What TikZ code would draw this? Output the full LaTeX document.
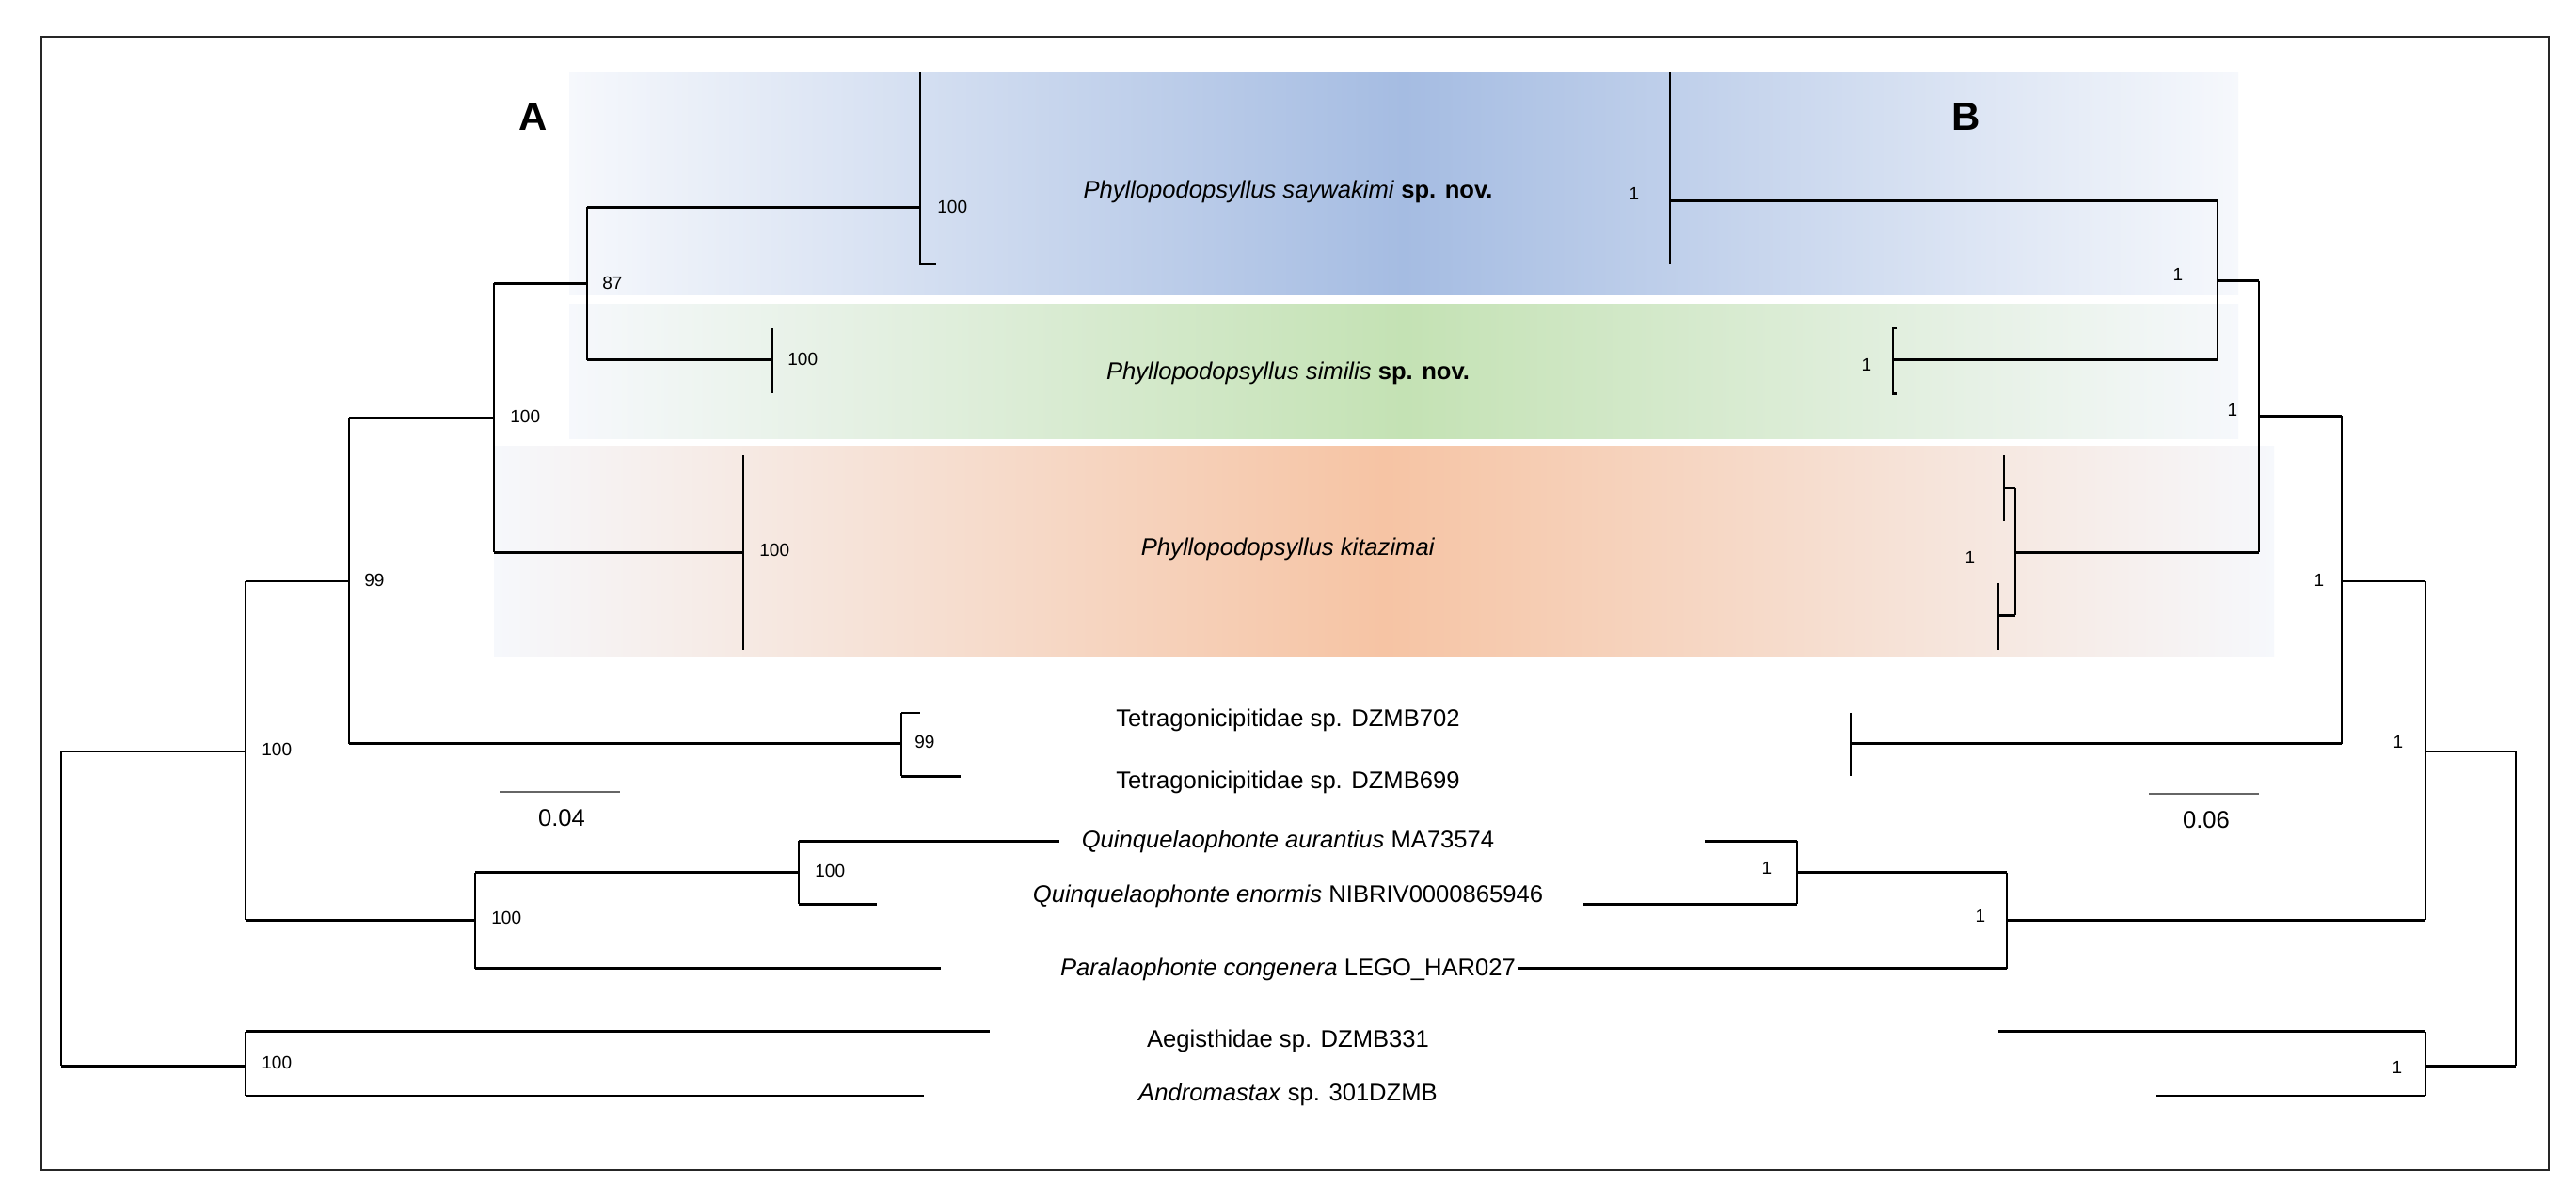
\documentclass[tikz,border=0pt]{standalone}
\usepackage{fontspec}
\setmainfont{Liberation Sans}
\definecolor{pale}{RGB}{246,248,252}
\definecolor{cblue}{RGB}{165,188,226}
\definecolor{cgreen}{RGB}{196,226,180}
\definecolor{corange}{RGB}{246,196,164}
\begin{document}
\begin{tikzpicture}[x=0.5pt,y=-0.4667pt,
  br/.style={line width=1.4pt},
  bs/.style={font=\fontsize{9.5}{11}\selectfont,inner sep=0pt},
  bw/.style={bs,anchor=west},
  tx/.style={font=\fontsize{12.8}{15}\selectfont,inner sep=0pt},
  sb/.style={gray!80!black,line width=0.9pt}]
\useasboundingbox (0,0) rectangle (2738,1369);
\fill[white] (0,0) rectangle (2738,1369);
\draw[line width=0.9pt,black!85] (44,42) rectangle (2709,1333);
% backgrounds
\shade[left color=pale,right color=pale,middle color=cblue] (605,83) rectangle (2379,336);
\shade[left color=pale,right color=pale,middle color=cgreen] (605,347) rectangle (2379,500);
\shade[left color=pale,right color=pale,middle color=corange] (525,508) rectangle (2417,748);
% labels
\node[font=\bfseries\fontsize{21}{23}\selectfont] (LA) at (567,133) {A};
\node[font=\bfseries\fontsize{21}{23}\selectfont] (LB) at (2090,133) {B};
\node[tx] (t1) at (1369,218) {\textit{Phyllopodopsyllus saywakimi} \textbf{sp. nov.}};
\node[tx] (t2) at (1369,425) {\textit{Phyllopodopsyllus similis} \textbf{sp. nov.}};
\node[tx] (t3) at (1369,626) {\textit{Phyllopodopsyllus kitazimai}};
\node[tx] (t4) at (1369,821) {Tetragonicipitidae sp. DZMB702};
\node[tx] (t5) at (1369,891) {Tetragonicipitidae sp. DZMB699};
\node[tx] (t6) at (1369,959) {\textit{Quinquelaophonte aurantius} MA73574};
\node[tx] (t7) at (1369,1021) {\textit{Quinquelaophonte enormis} NIBRIV0000865946};
\node[tx] (t8) at (1369,1104) {\textit{Paralaophonte congenera} LEGO\_HAR027};
\node[tx] (t9) at (1369,1186) {Aegisthidae sp. DZMB331};
\node[tx] (t10) at (1369,1247) {\textit{Andromastax} sp. 301DZMB};
% ===== Tree A =====
\coordinate (aR) at (65,856);
\coordinate (a1) at (261,856); \coordinate (a2) at (261,1214);
\draw[br] (65,856) -- (65,1214);
\draw[br] (aR) -- (a1) (65,1214) -- (a2);
\draw[br] (261,662) -- (261,1048);
\draw[br] (261,1175) -- (261,1248);
\draw[br] (261,1175) -- (1052,1175) (261,1248) -- (982,1248);
\draw[br] (261,662) -- (371,662) (371,476) -- (371,847);
\draw[br] (261,1048) -- (505,1048) (505,994) -- (505,1103);
\draw[br] (505,994) -- (849,994) (849,958) -- (849,1030);
\draw[br] (849,958) -- (1126,958) (849,1030) -- (932,1030) (505,1103) -- (1000,1103);
\draw[br] (371,476) -- (525,476) (525,323) -- (525,629);
\draw[br] (371,847) -- (958,847) (958,812) -- (958,884);
\draw[br] (958,812) -- (978,812) (958,884) -- (1021,884);
\draw[br] (525,323) -- (624,323) (624,236) -- (624,410);
\draw[br] (624,236) -- (978,236) (978,83) -- (978,301) -- (995,301);
\draw[br] (624,410) -- (821,410) (821,374) -- (821,448);
\draw[br] (525,629) -- (790,629) (790,519) -- (790,740);
\node[bw] at (278,854) {100};
\node[bw] at (278,1211) {100};
\node[bw] at (387,661) {99};
\node[bw] at (522,1046) {100};
\node[bw] at (866,992) {100};
\node[bw] at (542,475) {100};
\node[bw] at (972,845) {99};
\node[bw] at (640,322) {87};
\node[bw] at (996,236) {100};
\node[bw] at (837,409) {100};
\node[bw] at (807,627) {100};
\draw[sb] (531,902) -- (659,902);
\node[tx] (sa) at (597,932) {0.04};
% ===== Tree B =====
\draw[br] (1775,83) -- (1775,301) (1775,229) -- (2357,229);
\draw[br] (2016,374) -- (2012,374) -- (2012,448) -- (2016,448) (2012,410) -- (2357,410);
\draw[br] (2357,229) -- (2357,410) (2357,320) -- (2401,320);
\draw[br] (2401,320) -- (2401,629) (2401,629) -- (2142,629);
\draw[br] (2142,556) -- (2142,701);
\draw[br] (2142,556) -- (2130,556) (2130,519) -- (2130,594);
\draw[br] (2142,701) -- (2124,701) (2124,664) -- (2124,740);
\draw[br] (2401,474) -- (2489,474) (2489,474) -- (2489,847);
\draw[br] (2489,847) -- (1967,847) (1967,812) -- (1967,884);
\draw[br] (2489,662) -- (2578,662) (2578,662) -- (2578,1048);
\draw[br] (2578,1048) -- (2133,1048) (2133,994) -- (2133,1103);
\draw[br] (2133,994) -- (1910,994) (1910,958) -- (1910,1030);
\draw[br] (1910,958) -- (1812,958) (1910,1030) -- (1683,1030) (2133,1103) -- (1613,1103);
\draw[br] (2578,856) -- (2674,856) (2674,856) -- (2674,1214) (2674,1214) -- (2578,1214);
\draw[br] (2578,1175) -- (2578,1248) (2578,1175) -- (2124,1175) (2578,1248) -- (2292,1248);
\node[bs] at (1737,221) {1};
\node[bs] at (1984,416) {1};
\node[bs] at (2315,313) {1};
\node[bs] at (2373,467) {1};
\node[bs] at (2094,635) {1};
\node[bs] at (2465,661) {1};
\node[bs] at (2549,845) {1};
\node[bs] at (2105,1043) {1};
\node[bs] at (1878,989) {1};
\node[bs] at (2548,1216) {1};
\draw[sb] (2284,904) -- (2401,904);
\node[tx] (sbl) at (2345,934) {0.06};
\end{tikzpicture}
\end{document}
